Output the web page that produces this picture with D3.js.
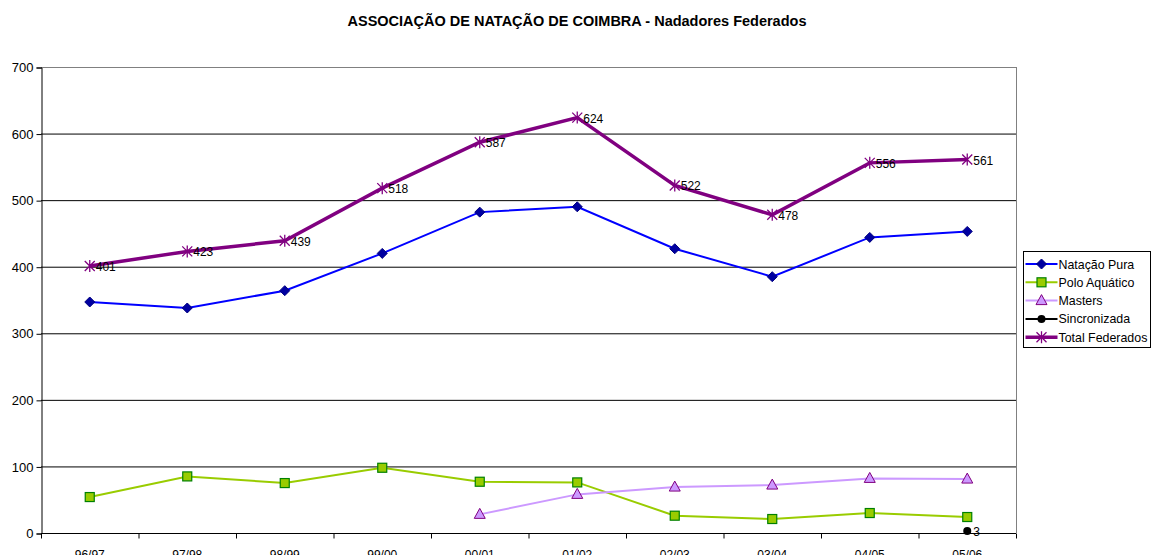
<!DOCTYPE html>
<html lang="pt">
<head>
<meta charset="UTF-8">
<title>Nadadores Federados</title>
<script src="https://d3js.org/d3.v7.min.js"></script>
<style>
  body { margin: 0; overflow: hidden; background: #fff; font-family: "Liberation Sans", Arial, sans-serif; }
</style>
</head>
<body>
<svg width="1151" height="590"></svg>
<script>
const seasons = ["96/97", "97/98", "98/99", "99/00", "00/01", "01/02", "02/03", "03/04", "04/05", "05/06"];
const natacaoPura = [347, 338, 364, 420, 482, 490, 427, 385, 444, 453];
const poloAquatico = [54, 85, 75, 98, 77, 76, 26, 21, 30, 24];
const masters = [null, null, null, null, 28, 58, 69, 72, 82, 81];
const sincronizada = [null, null, null, null, null, null, null, null, null, 3];
const totalFederados = [401, 423, 439, 518, 587, 624, 522, 478, 556, 561];
const yTicks = [0, 100, 200, 300, 400, 500, 600, 700];

const margin = {top: 67, left: 41, right: 1016, bottom: 533};
const svg = d3.select("svg");

const x = d3.scaleBand().domain(seasons).range([margin.left, margin.right]);
const y = d3.scaleLinear().domain([0, 700]).range([margin.bottom, margin.top]);
const cx = s => x(s) + x.bandwidth() / 2;

// title
svg.append("text")
  .attr("x", 577).attr("y", 26)
  .attr("text-anchor", "middle")
  .style("font-size", "14.5px").style("font-weight", "bold")
  .text("ASSOCIAÇÃO DE NATAÇÃO DE COIMBRA - Nadadores Federados");

// gridlines
svg.append("g").selectAll("line")
  .data(yTicks.filter(d => d > 0))
  .join("line")
  .attr("x1", margin.left).attr("x2", margin.right)
  .attr("y1", d => y(d) + 0.5).attr("y2", d => y(d) + 0.5)
  .attr("stroke", d => d === 700 ? "#808080" : "#000")
  .attr("stroke-width", 1);

// right border
svg.append("line")
  .attr("x1", margin.right + 0.5).attr("x2", margin.right + 0.5)
  .attr("y1", margin.top).attr("y2", margin.bottom)
  .attr("stroke", "#808080");

// y axis
const yAxis = svg.append("g")
  .attr("transform", `translate(${margin.left + 0.5},0.5)`)
  .call(d3.axisLeft(y).tickValues(yTicks).tickSize(5).tickPadding(3));
yAxis.selectAll("text").style("font-size", "13px").style("font-family", "Liberation Sans, Arial, sans-serif").attr("fill", "#000");
yAxis.selectAll("line,path").attr("stroke", "#000");

// x axis with ticks on band boundaries
const xAxis = svg.append("g").attr("transform", `translate(0,${margin.bottom + 0.5})`);
xAxis.append("line").attr("x1", margin.left).attr("x2", margin.right).attr("stroke", "#000");
xAxis.selectAll(".tk")
  .data(d3.range(seasons.length + 1))
  .join("line")
  .attr("x1", i => margin.left + i * x.bandwidth() + 0.5)
  .attr("x2", i => margin.left + i * x.bandwidth() + 0.5)
  .attr("y1", 0).attr("y2", 5)
  .attr("stroke", "#000");
xAxis.selectAll(".lbl")
  .data(seasons)
  .join("text")
  .attr("x", d => cx(d)).attr("y", 25)
  .attr("text-anchor", "middle")
  .style("font-size", "12px")
  .text(d => d);

const series = [
  {name: "Natação Pura", values: natacaoPura, line: "#0000FF", width: 2, marker: "diamond", fill: "#0000A0", stroke: "#000080"},
  {name: "Polo Aquático", values: poloAquatico, line: "#99CC00", width: 2, marker: "square", fill: "#99CC00", stroke: "#008000"},
  {name: "Masters", values: masters, line: "#CC99FF", width: 2, marker: "triangle", fill: "#CC99FF", stroke: "#800080"},
  {name: "Sincronizada", values: sincronizada, line: "#000", width: 2, marker: "circle", fill: "#000", stroke: "#000"},
  {name: "Total Federados", values: totalFederados, line: "#800080", width: 3.5, marker: "star", fill: "none", stroke: "#800080"}
];

function drawMarker(g, type, fill, stroke) {
  if (type === "diamond") {
    g.append("path").attr("d", "M0,-5L5,0L0,5L-5,0Z").attr("fill", fill).attr("stroke", stroke);
  } else if (type === "square") {
    g.append("rect").attr("x", -4.5).attr("y", -4.5).attr("width", 9).attr("height", 9)
      .attr("fill", fill).attr("stroke", stroke).attr("stroke-width", 1.2);
  } else if (type === "triangle") {
    g.append("path").attr("d", "M0,-6L5.5,4L-5.5,4Z").attr("fill", fill).attr("stroke", stroke);
  } else if (type === "circle") {
    g.append("circle").attr("r", 4).attr("fill", fill);
  } else if (type === "star") {
    g.append("path").attr("d", "M-5,-5L5,5M-5,5L5,-5M0,-6L0,6").attr("stroke", stroke).attr("stroke-width", 1.3).attr("fill", "none");
  }
}

const line = d3.line()
  .defined(d => d.v !== null)
  .x(d => cx(d.s))
  .y(d => y(d.v));

series.forEach(sr => {
  const pts = seasons.map((s, i) => ({s: s, v: sr.values[i]}));
  svg.append("path")
    .datum(pts)
    .attr("d", line)
    .attr("fill", "none")
    .attr("stroke", sr.line)
    .attr("stroke-width", sr.width);
  pts.filter(d => d.v !== null).forEach(d => {
    const g = svg.append("g").attr("transform", `translate(${cx(d.s)},${y(d.v)})`);
    drawMarker(g, sr.marker, sr.fill, sr.stroke);
  });
});

// data labels for total and sincronizada
const labelled = [
  {values: totalFederados},
  {values: sincronizada}
];
labelled.forEach(l => {
  seasons.forEach((s, i) => {
    if (l.values[i] === null) return;
    svg.append("text")
      .attr("x", cx(s) + 6).attr("y", y(l.values[i]) + 5)
      .style("font-size", "12px")
      .text(l.values[i]);
  });
});

// legend
const lg = svg.append("g").attr("transform", "translate(1023.5,251.5)");
lg.append("rect").attr("width", 127).attr("height", 96).attr("fill", "#fff").attr("stroke", "#000");
series.forEach((sr, i) => {
  const yy = 12.5 + i * 18.3;
  lg.append("line").attr("x1", 2).attr("x2", 34).attr("y1", yy).attr("y2", yy)
    .attr("stroke", sr.line).attr("stroke-width", sr.width);
  drawMarker(lg.append("g").attr("transform", `translate(18,${yy})`), sr.marker, sr.fill, sr.stroke);
  lg.append("text").attr("x", 35).attr("y", yy + 4.5)
    .style("font-size", "12.4px")
    .text(sr.name);
});
</script>
</body>
</html>
